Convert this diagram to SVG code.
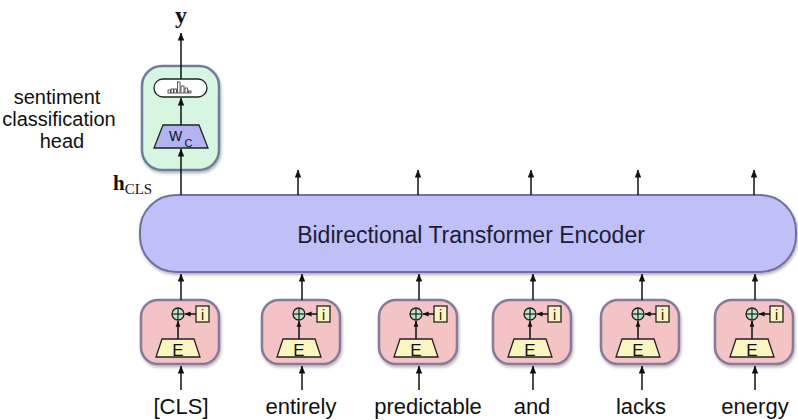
<svg xmlns="http://www.w3.org/2000/svg" width="798" height="420" viewBox="0 0 798 420">
<defs>
<marker id="ah" viewBox="0 0 8 8" refX="7.5" refY="4" markerWidth="8" markerHeight="8" markerUnits="userSpaceOnUse" orient="auto">
<path d="M0,0.8 L8,4 L0,7.2 Z" fill="#111"/>
</marker>
<marker id="ahs" viewBox="0 0 8 8" refX="7.5" refY="4" markerWidth="6" markerHeight="6" markerUnits="userSpaceOnUse" orient="auto">
<path d="M0,0.8 L8,4 L0,7.2 Z" fill="#111"/>
</marker>
<filter id="sh" x="-10%" y="-10%" width="125%" height="130%">
<feDropShadow dx="1" dy="2" stdDeviation="1.5" flood-color="#000" flood-opacity="0.3"/>
</filter>
<g id="tokinner">
<rect x="-40" y="0" width="78" height="64" rx="17" class="tok"/>
<path d="M-19,39 L13,39 L19,57 L-25,57 Z" class="emb"/>
<text x="-3" y="56" class="lblE">E</text>
<line x1="-3" y1="39" x2="-3" y2="21" class="ln" marker-end="url(#ahs)"/>
<circle cx="-3" cy="14" r="6" class="pos"/>
<line x1="-9" y1="14" x2="3" y2="14" class="thin"/>
<line x1="-3" y1="8" x2="-3" y2="20" class="thin"/>
<rect x="15" y="6" width="13" height="16" class="emb"/>
<text x="21.5" y="20" class="lbli">i</text>
<line x1="15" y1="14" x2="4" y2="14" class="ln" marker-end="url(#ahs)"/>
</g>
</defs>
<style>
.tok{fill:#f3c3c5;stroke:#87799c;stroke-width:2.5;filter:url(#sh)}
.emb{fill:#fbf5c0;stroke:#222;stroke-width:1.3}
.pos{fill:#b9e3c4;stroke:#222;stroke-width:1.3}
.ln{stroke:#111;stroke-width:1.5;fill:none}
.thin{stroke:#111;stroke-width:1.1}
.lblE{font-family:"Liberation Sans",Arial,sans-serif;font-size:17px;text-anchor:middle;fill:#111}
.lbli{font-family:"Liberation Sans",Arial,sans-serif;font-size:14px;text-anchor:middle;fill:#111}
.word{font-family:"Liberation Sans",Arial,sans-serif;font-size:22px;text-anchor:middle;fill:#111}
.side{font-family:"Liberation Sans",Arial,sans-serif;font-size:20px;text-anchor:middle;fill:#111}
.enc{fill:#c0c0f8;stroke:#6f6f9e;stroke-width:2;filter:url(#sh)}
.head{fill:#d6f6e2;stroke:#707c9c;stroke-width:2.5;filter:url(#sh)}
.wc{fill:#b3b3f2;stroke:#222;stroke-width:1.3}
.bar{fill:#fff;stroke:#333;stroke-width:0.8}
</style>

<g id="encoder">
<rect x="140" y="195" width="656" height="77" rx="36" class="enc"/>
<text x="471" y="243" font-family="'Liberation Sans',Arial,sans-serif" font-size="23" text-anchor="middle" fill="#1c1c38">Bidirectional Transformer Encoder</text>
</g>

<g id="head">
<rect x="142" y="66" width="77" height="104" rx="20" class="head"/>
<rect x="154" y="79" width="53" height="18" rx="9" fill="#fff" stroke="#222" stroke-width="1.3"/>
<rect x="168" y="90" width="2.5" height="3" class="bar"/>
<rect x="171" y="89" width="2.5" height="4" class="bar"/>
<rect x="174" y="89" width="2.5" height="4" class="bar"/>
<rect x="177.5" y="82" width="2.5" height="11" class="bar"/>
<rect x="181" y="86" width="3" height="7" class="bar"/>
<rect x="185" y="88" width="2.5" height="5" class="bar"/>
<rect x="188.5" y="91" width="2.5" height="2" class="bar"/>
<path d="M163,125 L199,125 L208,148 L154,148 Z" class="wc"/>
<text x="169" y="141" font-family="'Liberation Sans',Arial,sans-serif" font-size="14" fill="#111">W</text>
<text x="184.5" y="146.5" font-family="'Liberation Sans',Arial,sans-serif" font-size="11" fill="#111">C</text>
</g>

<g id="labels">
<text x="181" y="23" font-family="'Liberation Serif','Times New Roman',serif" font-size="24" font-weight="bold" text-anchor="middle" fill="#111">y</text>
<text x="113" y="190" font-family="'Liberation Serif','Times New Roman',serif" font-size="21" fill="#111"><tspan font-weight="bold">h</tspan><tspan font-size="15" dy="4">CLS</tspan></text>
<text x="57" y="104" class="side">sentiment</text>
<text x="59" y="126" class="side">classification</text>
<text x="62" y="148" class="side">head</text>
</g>

<g id="tok-cls" transform="translate(181,300)"><use href="#tokinner"/></g>
<g id="tok-entirely" transform="translate(302,300)"><use href="#tokinner"/></g>
<g id="tok-predictable" transform="translate(419,300)"><use href="#tokinner"/></g>
<g id="tok-and" transform="translate(533,300)"><use href="#tokinner"/></g>
<g id="tok-lacks" transform="translate(641,300)"><use href="#tokinner"/></g>
<g id="tok-energy" transform="translate(755,300)"><use href="#tokinner"/></g>

<g id="words">
<text x="181" y="414" class="word">[CLS]</text>
<text x="301" y="414" class="word">entirely</text>
<text x="428" y="414" class="word">predictable</text>
<text x="532" y="414" class="word">and</text>
<text x="641" y="414" class="word">lacks</text>
<text x="755" y="414" class="word">energy</text>
</g>

<g id="connectors">
<line x1="181" y1="390" x2="181" y2="366" class="ln" marker-end="url(#ah)"/>
<line x1="302" y1="390" x2="302" y2="366" class="ln" marker-end="url(#ah)"/>
<line x1="419" y1="390" x2="419" y2="366" class="ln" marker-end="url(#ah)"/>
<line x1="533" y1="390" x2="533" y2="366" class="ln" marker-end="url(#ah)"/>
<line x1="642" y1="390" x2="642" y2="366" class="ln" marker-end="url(#ah)"/>
<line x1="755" y1="390" x2="755" y2="366" class="ln" marker-end="url(#ah)"/>

<line x1="181" y1="300" x2="181" y2="274" class="ln" marker-end="url(#ah)"/>
<line x1="302" y1="300" x2="302" y2="274" class="ln" marker-end="url(#ah)"/>
<line x1="419" y1="300" x2="419" y2="274" class="ln" marker-end="url(#ah)"/>
<line x1="533" y1="300" x2="533" y2="274" class="ln" marker-end="url(#ah)"/>
<line x1="642" y1="300" x2="642" y2="274" class="ln" marker-end="url(#ah)"/>
<line x1="755" y1="300" x2="755" y2="274" class="ln" marker-end="url(#ah)"/>

<line x1="298" y1="195" x2="298" y2="170" class="ln" marker-end="url(#ah)"/>
<line x1="418" y1="195" x2="418" y2="170" class="ln" marker-end="url(#ah)"/>
<line x1="531" y1="195" x2="531" y2="170" class="ln" marker-end="url(#ah)"/>
<line x1="638" y1="195" x2="638" y2="170" class="ln" marker-end="url(#ah)"/>
<line x1="754" y1="195" x2="754" y2="170" class="ln" marker-end="url(#ah)"/>

<line x1="181" y1="195" x2="181" y2="149" class="ln" marker-end="url(#ah)"/>
<line x1="181" y1="125" x2="181" y2="98" class="ln" marker-end="url(#ah)"/>
<line x1="181" y1="79" x2="181" y2="33" class="ln" marker-end="url(#ah)"/>
</g>
</svg>
